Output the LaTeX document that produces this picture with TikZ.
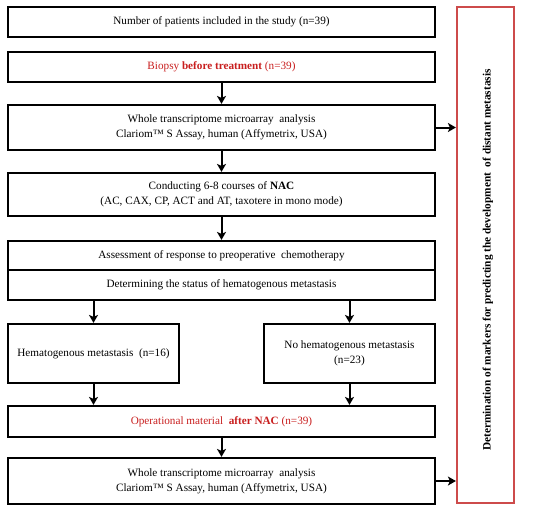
\documentclass[tikz,border=0pt]{standalone}
\usepackage{fontspec}
\setmainfont{Liberation Serif}
\usetikzlibrary{arrows.meta}
\definecolor{redtxt}{RGB}{200,30,30}
\definecolor{redbox}{RGB}{205,75,75}
\begin{document}
\begin{tikzpicture}[x=1pt,y=-1pt,
  box/.style={draw=black,line width=2.2pt,align=center,inner sep=0pt,font=\fontsize{11.2}{15}\selectfont},
  arr/.style={line width=2pt,-{Stealth[length=8pt,width=9pt,inset=2pt]}}]
\useasboundingbox (0,0) rectangle (550,512);
\node[box,minimum width=427pt,minimum height=30pt] (b1) at (221.5,22) {Number of patients included in the study (n=39)};
\node[box,minimum width=427pt,minimum height=30pt] (b2) at (221.5,67) {\textcolor{redtxt}{Biopsy \textbf{before treatment} (n=39)}};
\node[box,minimum width=427pt,minimum height=45pt] (b3) at (221.5,127.5) {Whole transcriptome microarray\ \ analysis\\Clariom™ S Assay, human (Affymetrix, USA)};
\node[box,minimum width=427pt,minimum height=43pt] (b4) at (221.5,194.5) {Conducting 6-8 courses of \textbf{NAC}\\(AC, CAX, CP, ACT and AT, taxotere in mono mode)};
\node[box,minimum width=427pt,minimum height=29pt] (b5) at (221.5,255.5) {Assessment of response to preoperative\ \ chemotherapy};
\node[box,minimum width=427pt,minimum height=30pt] (b6) at (221.5,285) {Determining the status of hematogenous metastasis};
\node[box,minimum width=171pt,minimum height=59pt] (hm) at (93.5,353.5) {Hematogenous metastasis\ \ (n=16)};
\node[box,minimum width=171pt,minimum height=59pt] (nh) at (349.5,353.5) {No hematogenous metastasis\\(n=23)};
\node[box,minimum width=427pt,minimum height=31pt] (op) at (221.5,421.5) {\textcolor{redtxt}{Operational material\ \ \textbf{after NAC} (n=39)}};
\node[box,minimum width=427pt,minimum height=46pt] (b7) at (221.5,481) {Whole transcriptome microarray\ \ analysis\\Clariom™ S Assay, human (Affymetrix, USA)};
\node[draw=redbox,line width=2.2pt,minimum width=57pt,minimum height=496pt,inner sep=0pt] (rb) at (485.5,255) {};
\node[rotate=90,font=\fontsize{11.3}{13}\selectfont\bfseries] (rt) at (488,260) {Determination of markers for predicting the development\ \ of distant metastasis};
\draw[arr] (b2.south) -- (b3.north);
\draw[arr] (b3.south) -- (b4.north);
\draw[arr] (b4.south) -- (b5.north);
\draw[arr] (b6.south -| hm.north) -- (hm.north);
\draw[arr] (b6.south -| nh.north) -- (nh.north);
\draw[arr] (hm.south) -- (op.north -| hm.south);
\draw[arr] (nh.south) -- (op.north -| nh.south);
\draw[arr] (op.south) -- (b7.north);
\draw[arr] (b3.east) -- (b3.east -| rb.west);
\draw[arr] (b7.east) -- (b7.east -| rb.west);
\end{tikzpicture}
\end{document}
